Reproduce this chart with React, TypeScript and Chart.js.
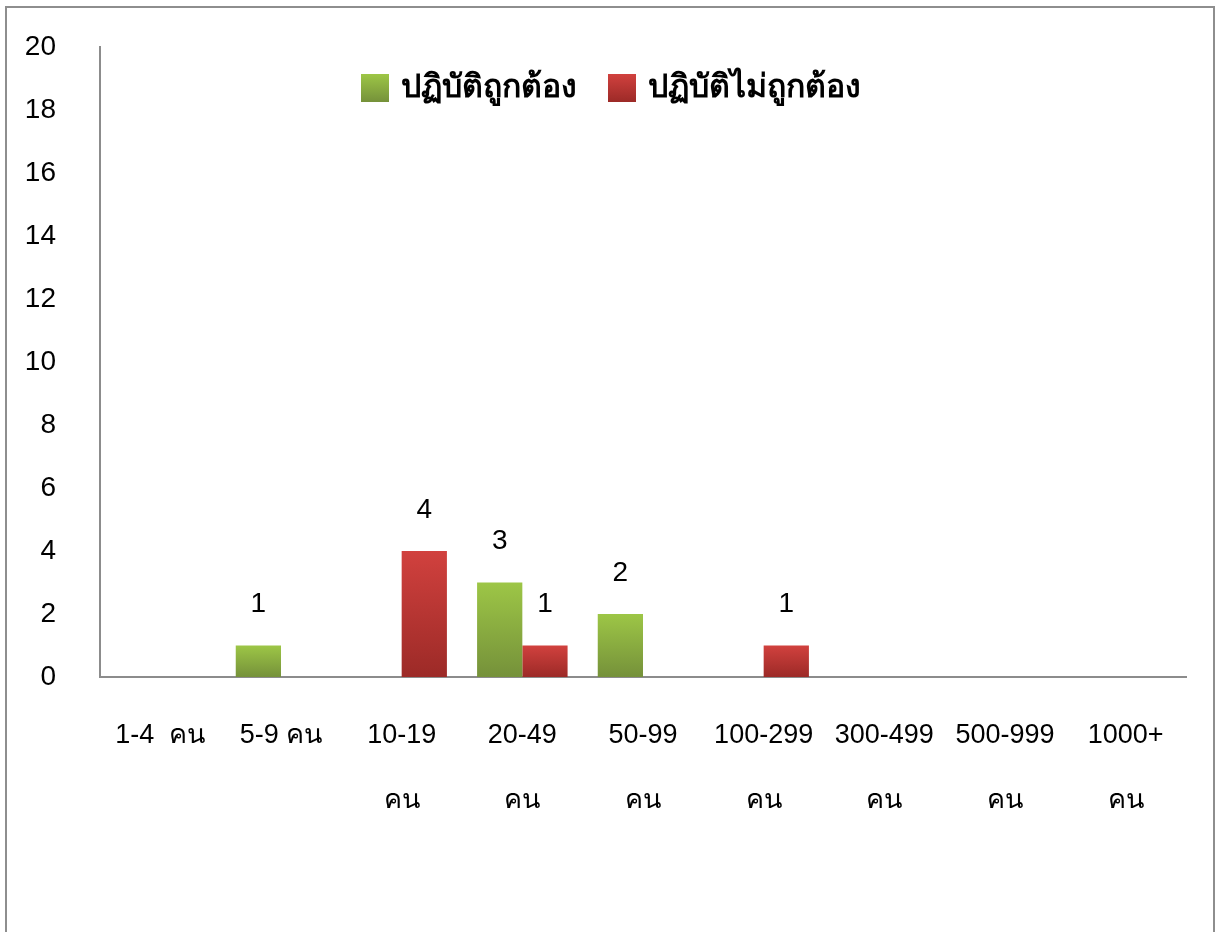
import React, { useEffect, useRef } from "react";
import { Chart, registerables } from "chart.js";

Chart.register(...registerables);

const categories: (string | string[])[] = [
  "1-4  คน",
  "5-9 คน",
  ["10-19", "คน"],
  ["20-49", "คน"],
  ["50-99", "คน"],
  ["100-299", "คน"],
  ["300-499", "คน"],
  ["500-999", "คน"],
  ["1000+", "คน"],
];
const correctLabel = "ปฏิบัติถูกต้อง";
const incorrectLabel = "ปฏิบัติไม่ถูกต้อง";
const correctValues = [0, 1, 0, 3, 2, 0, 0, 0, 0];
const incorrectValues = [0, 0, 4, 1, 0, 1, 0, 0, 0];
const yMin = 0;
const yMax = 20;
const yStep = 2;

const FONT = "'Liberation Sans', 'Noto Sans', 'DejaVu Sans', sans-serif";

const GREEN = { light: "#9dc646", dark: "#75913a", flat: "#8db540" };
const RED = { light: "#d1413e", dark: "#9c2a27", flat: "#c13a37" };

function gradientFill(c: { light: string; dark: string; flat: string }) {
  return (ctx: any) => {
    if (ctx.type !== "data") return c.flat;
    const chart = ctx.chart;
    const y = chart.scales?.y;
    if (!y) return c.flat;
    const top = y.getPixelForValue(ctx.raw);
    const bottom = y.getPixelForValue(0);
    if (!isFinite(top) || !isFinite(bottom) || top === bottom) return c.flat;
    const g = chart.ctx.createLinearGradient(0, top, 0, bottom);
    g.addColorStop(0, c.light);
    g.addColorStop(1, c.dark);
    return g;
  };
}

const valueLabels = {
  id: "valueLabels",
  afterDatasetsDraw(chart: any) {
    const ctx = chart.ctx;
    ctx.save();
    ctx.font = `28px ${FONT}`;
    ctx.fillStyle = "#000";
    ctx.textAlign = "center";
    ctx.textBaseline = "middle";
    chart.data.datasets.forEach((ds: any, i: number) => {
      const meta = chart.getDatasetMeta(i);
      meta.data.forEach((bar: any, j: number) => {
        const v = ds.data[j];
        if (!v) return;
        ctx.fillText(String(v), bar.x, bar.y - 41);
      });
    });
    ctx.restore();
  },
};

const legendColors = [GREEN, RED];

const insideLegend = {
  id: "insideLegend",
  afterDraw(chart: any) {
    const ctx = chart.ctx;
    const area = chart.chartArea;
    const box = 28;
    const gap = 12;
    const itemGap = 31;
    ctx.save();
    ctx.font = `bold 32px ${FONT}`;
    const items = chart.data.datasets.map((ds: any, i: number) => ({
      text: ds.label,
      w: ctx.measureText(ds.label).width,
      c: legendColors[i],
    }));
    const total =
      items.reduce((s: number, it: any) => s + box + gap + it.w, 0) +
      itemGap * (items.length - 1);
    const cx = (area.left + area.right) / 2 - 32;
    let x = cx - total / 2;
    const cy = area.top + 41;
    ctx.textBaseline = "middle";
    ctx.textAlign = "left";
    items.forEach((it: any) => {
      const g = ctx.createLinearGradient(0, cy - box / 2, 0, cy + box / 2);
      g.addColorStop(0, it.c.light);
      g.addColorStop(1, it.c.dark);
      ctx.fillStyle = g;
      ctx.fillRect(x, cy - box / 2, box, box);
      ctx.fillStyle = "#000";
      ctx.fillText(it.text, x + box + gap, cy);
      x += box + gap + it.w + itemGap;
    });
    ctx.restore();
  },
};

export default function App() {
  const ref = useRef<HTMLCanvasElement>(null);
  useEffect(() => {
    if (!ref.current) return;
    const chart = new Chart(ref.current, {
      type: "bar",
      data: {
        labels: categories,
        datasets: [
          {
            label: correctLabel,
            data: correctValues,
            backgroundColor: gradientFill(GREEN),
            borderWidth: 0,
          },
          {
            label: incorrectLabel,
            data: incorrectValues,
            backgroundColor: gradientFill(RED),
            borderWidth: 0,
          },
        ],
      },
      options: {
        responsive: false,
        animation: false,
        devicePixelRatio: 1,
        layout: { padding: { top: 47, right: 30, left: 0, bottom: 0 } },
        datasets: {
          bar: { categoryPercentage: 0.75, barPercentage: 1 },
        },
        plugins: {
          tooltip: { enabled: false },
          legend: { display: false },
        },
        scales: {
          x: {
            grid: { display: false, drawTicks: false },
            border: { display: true, color: "#8c8c8c", width: 2 },
            ticks: {
              color: "#000",
              autoSkip: false,
              maxRotation: 0,
              minRotation: 0,
              padding: 26,
              font: { family: FONT, size: 27, lineHeight: 2.42 },
            },
            afterFit(scale: any) {
              scale.height = 255;
            },
          },
          y: {
            min: yMin,
            max: yMax,
            grid: { display: false, drawTicks: false },
            border: { display: true, color: "#8c8c8c", width: 2 },
            ticks: {
              stepSize: yStep,
              color: "#000",
              padding: 44,
              font: { family: FONT, size: 28 },
            },
            afterFit(scale: any) {
              scale.width = 100;
              scale.paddingTop = 0;
              scale.paddingBottom = 0;
            },
          },
        },
      },
      plugins: [valueLabels, insideLegend],
    });
    return () => chart.destroy();
  }, []);

  return (
    <div
      style={{
        position: "absolute",
        left: 0,
        top: 0,
        width: 1216,
        height: 932,
        overflow: "hidden",
        background: "#fff",
      }}
    >
      <div
        style={{
          position: "absolute",
          left: 5,
          top: 6,
          width: 1210,
          height: 960,
          border: "2px solid #8e8e8e",
          boxSizing: "border-box",
        }}
      />
      <canvas
        ref={ref}
        width={1216}
        height={932}
        style={{ position: "absolute", left: 0, top: 0, width: 1216, height: 932 }}
      />
    </div>
  );
}
